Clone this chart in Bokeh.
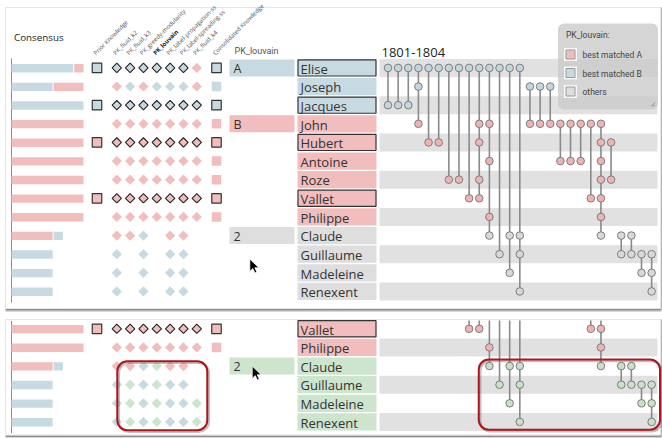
import math
from bokeh.plotting import figure
from bokeh.models import Range1d
from bokeh.core.properties import value
from bokeh.embed import file_html
from bokeh.resources import INLINE

# ---------------- data ----------------
names = ["Elise", "Joseph", "Jacques", "John", "Hubert", "Antoine", "Roze",
         "Vallet", "Philippe", "Claude", "Guillaume", "Madeleine", "Renexent"]
top_cluster = ["B", "B", "B", "A", "A", "A", "A", "A", "A", "O", "O", "O", "O"]
bottom_names = ["Vallet", "Philippe", "Claude", "Guillaume", "Madeleine", "Renexent"]
bottom_cluster = ["A", "A", "G", "G", "G", "G"]

prior_label = "Prior Knowledge"
method_labels = ["PK_fluid_k2", "PK_fluid_k3", "PK_greedy-modularity", "PK_louvain",
                 "PK_label-propagation-ss", "PK_label-spreading-ss", "PK_fluid_k4"]
consolidated_label = "Consolidated Knowledge"
highlight_method = "PK_louvain"

# per row: one letter per method (A = best matched A, B = best matched B, G = new group, . = none)
top_votes = ["BBBBBBA", "ABABBBA", "BBBBBBB", "AAAAAAA", "AAAAAAA", "AAAAAAA", "AAAAAAA",
             "AAAAAAA", "AAAAAAA", "AAB.AA.", "B.B.BB.", "B.B.BB.", "B.B.BB."]
bottom_votes = ["AAAAAAA", "AAAAAAA", "AABGAA.", "BGBGBB.", "BGBGBBG", "BGBGBBG"]
top_prior = ["B", "", "B", "", "A", "", "", "A", "", "", "", "", ""]
top_consolidated = ["B", "B", "B", "A", "A", "A", "A", "A", "A", "", "", "", ""]
bottom_prior = ["A", "", "", "", "", ""]
bottom_consolidated = ["A", "A", "", "", "", ""]

consensus_a = [1, 3, 0, 7, 7, 7, 7, 7, 7, 4, 0, 0, 0]
consensus_b = [6, 4, 7, 0, 0, 0, 0, 0, 0, 1, 4, 4, 4]
n_methods = 7

top_groups = {"Elise": "A", "John": "B", "Claude": "2"}
bottom_groups = {"Claude": "2"}

period = "1801-1804"
events = [
    ["Elise", "Jacques"], ["Elise", "Jacques"], ["Elise", "Jacques"],
    ["Elise", "Joseph", "John"],
    ["Elise", "Hubert"], ["Elise", "Hubert"],
    ["Elise", "Roze"], ["Elise", "Roze"],
    ["Elise", "Vallet"],
    ["Elise", "John", "Hubert", "Roze", "Vallet"],
    ["Elise", "John", "Antoine", "Philippe", "Claude"],
    ["Elise", "Guillaume"],
    ["Elise", "Claude", "Madeleine"],
    ["Elise", "Claude", "Guillaume", "Renexent"],
    ["Joseph", "John"], ["Joseph", "John"], ["Joseph", "John"],
    ["John", "Antoine"], ["John", "Antoine"], ["John", "Antoine"],
    ["John", "Vallet"],
    ["John", "Hubert", "Antoine", "Roze", "Vallet", "Philippe", "Claude"],
    ["Hubert", "Roze"],
    ["Claude", "Guillaume"], ["Claude", "Guillaume"],
    ["Guillaume", "Madeleine"],
    ["Guillaume", "Madeleine", "Renexent"],
]

legend_title = "PK_louvain:"
legend_labels = ["best matched A", "best matched B", "others"]
legend_keys = ["A", "B", "O"]

# ---------------- style / layout ----------------
FILL = {"A": "#f2bdbd", "B": "#c8dae1", "O": "#dedede", "G": "#cde4cd"}
DOT = {"A": "#efb3b3", "B": "#c2d6df", "O": "#d8d8d8", "G": "#c8e1c8"}
STRIPE = "#e1e1e1"
LINE = "#8a8a8a"
TXT = "#333333"
SANS = value("Open Sans")
NARROW = value("Roboto")

W, H = 662, 438
X_AXIS = 11.0
BAR_UNIT = 72.0 / n_methods
X_PRIOR = 96.5
X_M0, X_DM = 116.3, 13.33
X_CONS = 216.0
GRP_L, GRP_R = 229.0, 294.0
NAME_L, NAME_R = 297.0, 376.0
TL_L, TL_R = 379.0, 657.0
EV_X0, EV_DX = 387.5, 10.14
ROW_H = 18.63
TOP_Y0 = 67.4
BOT_Y0 = 328.3
TOP_PANEL = (5.0, 660.0, 7.0, 308.0)
BOT_PANEL = (5.0, 660.0, 319.0, 434.5)

p = figure(width=W, height=H, x_range=Range1d(0, W), y_range=Range1d(H, 0),
           output_backend="svg", toolbar_location=None,
           x_axis_location=None, y_axis_location=None, min_border=0,
           outline_line_color=None, background_fill_color="white",
           border_fill_color="white")
p.grid.grid_line_color = None

# panel cards with a soft shadow
for (l, r, t, b) in (TOP_PANEL, BOT_PANEL):
    p.segment(x0=[l], y0=[b + 1.2], x1=[r + 1], y1=[b + 1.2], line_color="#8f8f8f", line_width=2)
    p.segment(x0=[l], y0=[b + 2.8], x1=[r + 1], y1=[b + 2.8], line_color="#d0d0d0", line_width=1)
    p.segment(x0=[r + 1], y0=[t], x1=[r + 1], y1=[b + 1], line_color="#b5b5b5", line_width=1.5)
    p.quad(left=[l], right=[r], top=[t], bottom=[b], fill_color="white", line_color="#e6e6e6", line_width=1)


def draw_panel(rows, clusters, votes, prior, consolidated, groups, y0, axis_top, axis_bottom, line_top):
    ys = [y0 + j * ROW_H for j in range(len(rows))]
    ymap = dict(zip(rows, ys))
    cmap = dict(zip(rows, clusters))

    # timeline stripes (by global row index)
    sy = [y for n, y in zip(rows, ys) if names.index(n) % 2 == 0]
    p.quad(left=TL_L, right=TL_R, top=[y - 9 for y in sy], bottom=[y + 9 for y in sy],
           fill_color=STRIPE, line_color=None)

    # consensus axis
    p.segment(x0=[X_AXIS], y0=[axis_top], x1=[X_AXIS], y1=[axis_bottom], line_color="#8c8c8c", line_width=1)

    # consensus bars (majority first)
    L, R, T, B, C = [], [], [], [], []
    for n, y in zip(rows, ys):
        i = names.index(n)
        segs = [("B", consensus_b[i]), ("A", consensus_a[i])]
        segs.sort(key=lambda s: -s[1])
        start = 0
        for k, v in segs:
            if v <= 0:
                continue
            left = X_AXIS + start * BAR_UNIT + (1.0 if start > 0 else 0.0)
            right = X_AXIS + (start + v) * BAR_UNIT
            L.append(left); R.append(right); T.append(y - 3.9); B.append(y + 4.5); C.append(FILL[k])
            start += v
    p.quad(left=L, right=R, top=T, bottom=B, fill_color=C, line_color=None)

    # prior knowledge squares
    px = [X_PRIOR for n, pr in zip(rows, prior) if pr]
    py = [ymap[n] for n, pr in zip(rows, prior) if pr]
    pc = [FILL[pr] for pr in prior if pr]
    p.scatter(px, py, marker="square", size=9.5, fill_color=pc, line_color="#333333", line_width=1.2)

    # method diamonds
    dx, dy, dc, ox, oy, oc = [], [], [], [], [], []
    for n, y, v, pr in zip(rows, ys, votes, prior):
        for m, ch in enumerate(v):
            if ch == ".":
                continue
            x = X_M0 + m * X_DM
            if pr and ch == pr:
                ox.append(x); oy.append(y); oc.append(FILL[ch])
            else:
                dx.append(x); dy.append(y); dc.append(FILL[ch])
    p.scatter(dx, dy, marker="square", size=7.2, angle=math.pi / 4, fill_color=dc, line_color=None)
    p.scatter(ox, oy, marker="square", size=6.6, angle=math.pi / 4, fill_color=oc,
              line_color="#222222", line_width=1.1)

    # consolidated squares
    for outlined in (False, True):
        cx = [X_CONS for n, c, pr in zip(rows, consolidated, prior) if c and bool(pr) == outlined]
        cy = [ymap[n] for n, c, pr in zip(rows, consolidated, prior) if c and bool(pr) == outlined]
        cc = [FILL[c] for c, pr in zip(consolidated, prior) if c and bool(pr) == outlined]
        if outlined:
            p.scatter(cx, cy, marker="square", size=9.5, fill_color=cc, line_color="#333333", line_width=1.2)
        else:
            p.scatter(cx, cy, marker="square", size=9.5, fill_color=cc, line_color=None)

    # PK_louvain group boxes
    gn = [n for n in rows if n in groups]
    p.quad(left=GRP_L, right=GRP_R, top=[ymap[n] - 8.5 for n in gn], bottom=[ymap[n] + 8.5 for n in gn],
           fill_color=[FILL[cmap[n]] for n in gn], line_color=None)
    p.text(x=[GRP_L + 4] * len(gn), y=[ymap[n] + 0.5 for n in gn], text=[groups[n] for n in gn],
           text_font=SANS, text_font_size="12.5px", text_color=TXT, text_baseline="middle", text_align="left")

    # name boxes
    plain = [n for n, pr in zip(rows, prior) if not pr]
    boxed = [n for n, pr in zip(rows, prior) if pr]
    p.quad(left=NAME_L, right=NAME_R, top=[ymap[n] - 8.6 for n in plain], bottom=[ymap[n] + 8.6 for n in plain],
           fill_color=[FILL[cmap[n]] for n in plain], line_color=None)
    p.quad(left=NAME_L + 0.5, right=NAME_R - 0.5, top=[ymap[n] - 8.1 for n in boxed],
           bottom=[ymap[n] + 8.1 for n in boxed],
           fill_color=[FILL[cmap[n]] for n in boxed], line_color="#333333", line_width=1.2)
    p.text(x=[NAME_L + 3] * len(rows), y=[y + 0.8 for y in ys], text=rows,
           text_font=SANS, text_font_size="13px", text_color=TXT, text_baseline="middle", text_align="left")

    # timeline events
    sx0, sy0, sx1, sy1, cx, cy, cc = [], [], [], [], [], [], []
    for k, ev in enumerate(events):
        x = EV_X0 + k * EV_DX
        inside = [n for n in ev if n in ymap]
        if not inside:
            continue
        yb = max(ymap[n] for n in inside)
        if len(inside) == len(ev):
            yt = min(ymap[n] for n in inside)
        else:
            yt = line_top
        if yb > yt:
            sx0.append(x); sy0.append(yt); sx1.append(x); sy1.append(yb)
        for n in inside:
            cx.append(x); cy.append(ymap[n]); cc.append(DOT[cmap[n]])
    p.segment(x0=sx0, y0=sy0, x1=sx1, y1=sy1, line_color=LINE, line_width=1.6)
    p.scatter(cx, cy, marker="circle", size=7.6, fill_color=cc, line_color="#7d7d7d", line_width=1)
    return ymap


top_y = draw_panel(names, top_cluster, top_votes, top_prior, top_consolidated, top_groups,
                   TOP_Y0, TOP_Y0 - 9.5, TOP_Y0 + 12 * ROW_H + 11, TOP_Y0)
bot_y = draw_panel(bottom_names, bottom_cluster, bottom_votes, bottom_prior, bottom_consolidated,
                   bottom_groups, BOT_Y0, BOT_PANEL[2] + 1.5, BOT_PANEL[3] - 2, BOT_PANEL[2] + 1)

# ---------------- headers ----------------
p.text(x=[13.5], y=[37], text=["Consensus"], text_font=SANS, text_font_size="9.8px",
       text_color="#222222", text_baseline="middle", text_align="left")

head_x = [X_PRIOR] + [X_M0 + m * X_DM for m in range(len(method_labels))] + [X_CONS]
head_t = [prior_label] + method_labels + [consolidated_label]
norm = [(x, t) for x, t in zip(head_x, head_t) if t != highlight_method]
bold = [(x, t) for x, t in zip(head_x, head_t) if t == highlight_method]
p.text(x=[x - 2.5 for x, t in norm], y=[53.5] * len(norm), text=[t for x, t in norm],
       angle=math.pi / 4, text_font=SANS, text_font_size="6px", text_color="#555555",
       text_baseline="middle", text_align="left")
p.text(x=[x - 2.5 for x, t in bold], y=[53.5] * len(bold), text=[t for x, t in bold],
       angle=math.pi / 4, text_font=SANS, text_font_size="6px", text_color="#111111",
       text_font_style="bold", text_baseline="middle", text_align="left")

p.text(x=[GRP_L + 5], y=[50], text=["PK_louvain"], text_font=NARROW, text_font_size="9px",
       text_color="#555555", text_baseline="middle", text_align="left")
p.text(x=[TL_L + 2], y=[51.5], text=[period], text_font=SANS, text_font_size="13px",
       text_color="#222222", text_baseline="middle", text_align="left")

# ---------------- legend ----------------
LG_L, LG_R, LG_T, LG_B = 557.5, 657.5, 23.0, 109.0
p.quad(left=[LG_L], right=[LG_R], top=[LG_T], bottom=[LG_B], fill_color="#cbcbcb", fill_alpha=0.8,
       line_color=None, border_radius=6)
p.text(x=[LG_L + 8], y=[34.5], text=[legend_title], text_font=NARROW, text_font_size="8.5px",
       text_color="#444444", text_baseline="middle", text_align="left")
ly = [54 + i * 18.5 for i in range(len(legend_labels))]
p.scatter([LG_L + 12.5] * len(ly), ly, marker="square", size=13, fill_color="#f7f7f7", line_color=None)
p.scatter([LG_L + 12.5] * len(ly), ly, marker="square", size=9, fill_color=[FILL[k] for k in legend_keys],
          line_color="#9a9a9a", line_width=1)
p.text(x=[LG_L + 24.5] * len(ly), y=[y + 0.5 for y in ly], text=legend_labels, text_font=NARROW,
       text_font_size="8.5px", text_color="#444444", text_baseline="middle", text_align="left")
p.segment(x0=[LG_R - 7, LG_R - 4.5], y0=[LG_B - 3, LG_B - 3], x1=[LG_R - 3, LG_R - 3],
          y1=[LG_B - 7, LG_B - 4.5], line_color="#777777", line_width=0.8)

# ---------------- highlight frames (bottom panel) ----------------
hl_left = [X_M0 + 0.5, EV_X0 + 9 * EV_DX - 0.5]
hl_right = [X_M0 + 6 * X_DM + 10.5, 659.5]
hl_top = [bot_y["Claude"] - 4.8, bot_y["Claude"] - 6.5]
hl_bot = [bot_y["Renexent"] + 8.2, bot_y["Renexent"] + 7.8]
p.quad(left=[l + 1.5 for l in hl_left], right=[r + 1.5 for r in hl_right], top=[t + 1.5 for t in hl_top],
       bottom=[b + 1.5 for b in hl_bot], fill_color=None, line_color="#777777", line_alpha=0.45,
       line_width=2.5, border_radius=10)
p.quad(left=hl_left, right=hl_right, top=hl_top, bottom=hl_bot, fill_color=None,
       line_color="#b0141b", line_width=2, border_radius=10)

# ---------------- mouse pointers ----------------
cursor_tips = [(249.3, 258.5), (251.7, 365.5)]
arrow = [(0, 0), (0, 12.5), (3, 9.6), (5.2, 14), (7.1, 13.1), (5, 8.8), (9, 8.8)]
p.patches(xs=[[tx + ax for ax, ay in arrow] for tx, ty in cursor_tips],
          ys=[[ty + ay for ax, ay in arrow] for tx, ty in cursor_tips],
          fill_color="black", line_color="white", line_width=0.8)

open("out.html", "w").write(file_html(p, INLINE))
